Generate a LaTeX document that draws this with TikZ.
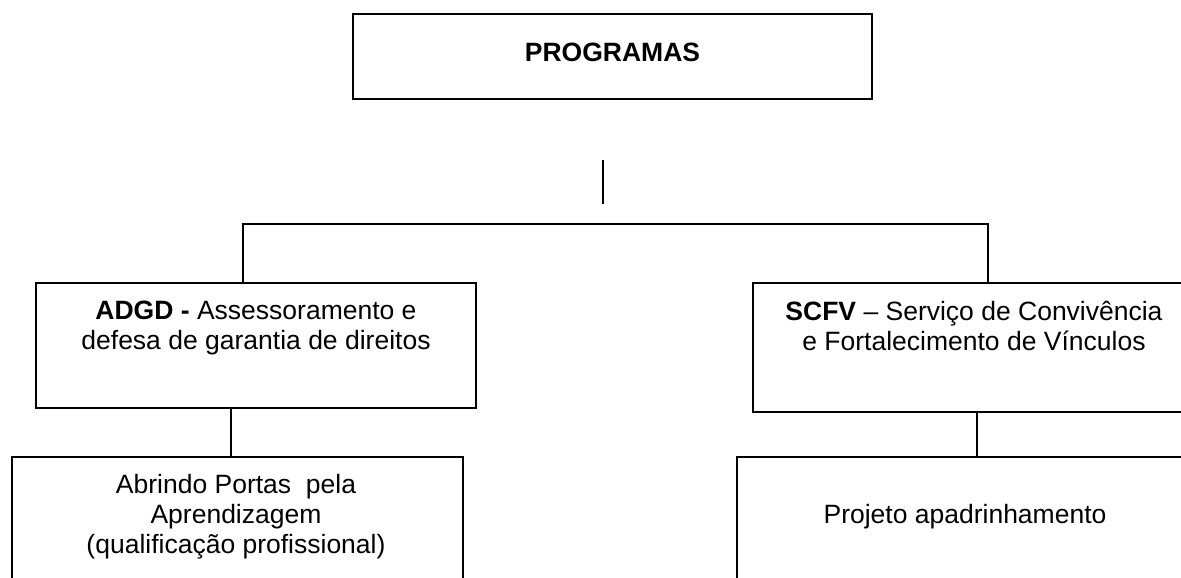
\documentclass[tikz,border=0pt]{standalone}
\usepackage{fontspec}
\setmainfont{Liberation Sans}
\begin{document}
\begin{tikzpicture}[x=1pt,y=-1pt,
  box/.style={draw=black,line width=1.6pt,rectangle,inner sep=0pt},
  txt/.style={align=center,inner sep=0pt,font=\fontsize{26.5}{30}\selectfont},
  conn/.style={draw=black,line width=1.6pt}]
\useasboundingbox (0,0) rectangle (1181,578);
% boxes
\node[box,minimum width=519pt,minimum height=85pt] (top) at (612.5,56.5) {};
\node[box,minimum width=440pt,minimum height=125pt] (lb) at (256,345.5) {};
\node[box,minimum width=447pt,minimum height=129pt] (rb) at (976.5,347.5) {};
\node[box,minimum width=451pt,minimum height=143pt] (bl) at (237.5,528.5) {};
\node[box,minimum width=463pt,minimum height=143pt] (br) at (968.5,528.5) {};
% texts
\node[txt] (ttop) at (612.5,56) {\strut\textbf{PROGRAMAS}\strut};
\node[txt] (tlb) at (256,328) {\strut\textbf{ADGD -} Assessoramento e\\\strut defesa de garantia de direitos};
\node[txt] (trb) at (974,329) {\strut\textbf{SCFV} -- Serviço de Convivência\\\strut e Fortalecimento de Vínculos};
\node[txt] (tbl) at (236,517) {\strut Abrindo Portas~~pela\\\strut Aprendizagem\\\strut (qualificação profissional)};
\node[txt] (tbr) at (965,517) {\strut Projeto apadrinhamento};
% connectors
\coordinate (s1) at (603,160);
\coordinate (s2) at (603,204);
\coordinate (hl) at (243,224);
\coordinate (hr) at (988,224);
\draw[conn] (s1) -- (s2);
\draw[conn] (lb.north -| hl) -- (hl) -- (hr) -- (rb.north -| hr);
\coordinate (cl) at (231,0);
\coordinate (cr) at (977,0);
\draw[conn] (lb.south -| cl) -- (bl.north -| cl);
\draw[conn] (rb.south -| cr) -- (br.north -| cr);
\end{tikzpicture}
\end{document}
